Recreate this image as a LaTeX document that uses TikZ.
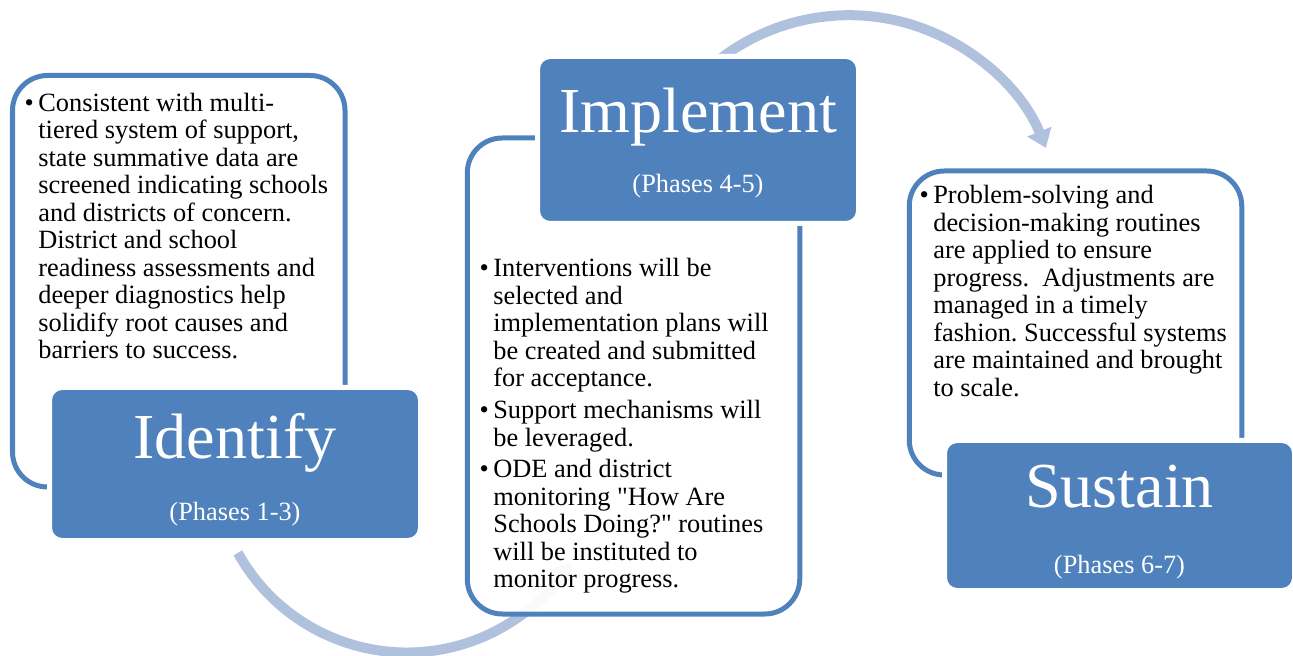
\documentclass[tikz,border=0pt]{standalone}
\usepackage{fontspec}
\setmainfont{Liberation Serif}[Ligatures=TeXOff]
\usepackage{xcolor}
\usepackage{tikz}
\usetikzlibrary{arrows.meta, positioning}

\definecolor{boxblue}{RGB}{79,129,189}
\definecolor{flowblue}{RGB}{176,193,221}
\newcommand{\itm}{\llap{\textbullet\hspace{2.5pt}}}
\newcommand{\dq}{\symbol{34}}
\frenchspacing

\begin{document}
\begin{tikzpicture}[>=Triangle, font=\fontsize{15}{15.65}\selectfont]
		\tikzstyle{panel} = [draw=boxblue, line width=0.1cm, fill=white, fill opacity=0.92, rounded corners=0.7cm, minimum width=6.65cm, inner sep=0]
		\tikzstyle{stage} = [draw=white, line width=0.1cm, fill=boxblue, rounded corners=0.25cm, inner sep=0]
		\tikzstyle{title} = [text=white, anchor=base, inner sep=0, font=\fontsize{36.5}{40}\selectfont]
		\tikzstyle{phase} = [text=white, anchor=base, inner sep=0]
		\tikzstyle{bullets} = [anchor=north west, align=left, inner sep=0]
		\tikzstyle{flow} = [draw=flowblue, line width=0.2cm, -{Triangle[width=0.5cm, length=0.35cm]}]

		\useasboundingbox (0, 0) rectangle (25.86, 13.1);

		% curved arrows, behind the boxes
		\coordinate	(f1)	at (4.757, 2.043);
		\coordinate	(f2)	at (14.142, 11.706);
		\draw[flow]	(f1) arc[start angle=209, end angle=328, radius=3.868cm];
		\draw[flow]	(f2) arc[start angle=132, end angle=22, radius=4.244cm];

		% text panels
		\node[panel, minimum height=8.23cm]	at (3.575, 7.475)	(idpanel)	{};
		\node[panel, minimum height=9.52cm]	at (12.67, 5.58)	(impanel)	{};
		\node[panel, minimum height=6.08cm]	at (21.51, 6.64)	(supanel)	{};

		% stage boxes
		\node[stage, minimum width=7.42cm, minimum height=3.06cm]	at (4.7, 3.82)		(idstage)	{};
		\node[stage, minimum width=6.42cm, minimum height=3.34cm]	at (13.96, 10.30)	(imstage)	{};
		\node[stage, minimum width=7.0cm, minimum height=3.0cm]		at (22.39, 2.79)	(sustage)	{};

		\node[title]	at (4.7, 3.94)		(idtitle)	{Identify};
		\node[phase]	at (4.7, 2.70)		(idphase)	{(Phases 1-3)};
		\node[title]	at (13.96, 10.44)	(imtitle)	{Implement};
		\node[phase]	at (13.96, 9.24)	(imphase)	{(Phases 4-5)};
		\node[title]	at (22.39, 2.94)	(sutitle)	{Sustain};
		\node[phase]	at (22.39, 1.64)	(suphase)	{(Phases 6-7)};

		% bullet texts
		\node[bullets]	at (0.76, 11.25)	(idtext)	{\itm Consistent with multi-\\
			tiered system of support,\\
			state summative data are\\
			screened indicating schools\\
			and districts of concern.\\
			District and school\\
			readiness assessments and\\
			deeper diagnostics help\\
			solidify root causes and\\
			barriers to success.};
		\node[bullets]	at (9.86, 7.94)		(imtext)	{\itm Interventions will be\\
			selected and\\
			implementation plans will\\
			be created and submitted\\
			for acceptance.\\[2.5pt]
			\itm Support mechanisms will\\
			be leveraged.\\[2.5pt]
			\itm ODE and district\\
			monitoring \dq How Are\\
			Schools Doing?\dq\ routines\\
			will be instituted to\\
			monitor progress.};
		\node[bullets]	at (18.66, 9.40)	(sutext)	{\itm Problem-solving and\\
			decision-making routines\\
			are applied to ensure\\
			progress.~ Adjustments are\\
			managed in a timely\\
			fashion. Successful systems\\
			are maintained and brought\\
			to scale.};
	\end{tikzpicture}
\end{document}
